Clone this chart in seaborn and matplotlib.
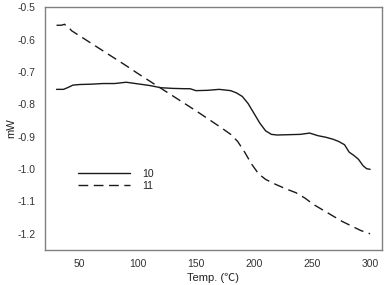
import matplotlib
matplotlib.use("Agg")
import matplotlib.pyplot as plt
import seaborn as sns
import pandas as pd

# Series "10" (solid)
x10 = [30, 36, 40, 44, 50, 60, 70, 80, 90, 100, 110, 120, 130, 140, 145, 150, 160, 170, 180, 185,
       190, 195, 200, 205, 210, 215, 220, 230, 240, 248, 255, 262, 268, 273, 278, 282, 286, 290, 294, 297, 300]
y10 = [-0.754, -0.754, -0.748, -0.741, -0.739, -0.738, -0.736, -0.736, -0.732, -0.737, -0.742, -0.749,
       -0.751, -0.752, -0.752, -0.758, -0.757, -0.754, -0.758, -0.765, -0.776, -0.798, -0.828, -0.858,
       -0.882, -0.893, -0.895, -0.894, -0.893, -0.889, -0.897, -0.902, -0.908, -0.915, -0.925, -0.948,
       -0.958, -0.970, -0.990, -0.999, -1.001]

# Series "11" (dashed)
x11 = [30, 34, 37, 39, 41, 43, 50, 60, 70, 80, 90, 100, 110, 120, 130, 140, 150, 160, 170, 180,
       186, 192, 198, 204, 210, 219, 228, 236, 244, 251, 260, 268, 276, 284, 292, 300]
y11 = [-0.556, -0.556, -0.553, -0.562, -0.565, -0.573, -0.589, -0.612, -0.635, -0.658, -0.681, -0.705,
       -0.728, -0.751, -0.774, -0.797, -0.820, -0.844, -0.868, -0.893, -0.915, -0.948, -0.985, -1.015,
       -1.032, -1.048, -1.062, -1.073, -1.090, -1.109, -1.128, -1.145, -1.162, -1.176, -1.190, -1.200]

labels = ["10", "11"]
xticks = [50, 100, 150, 200, 250, 300]
yticks = [-1.2, -1.1, -1.0, -0.9, -0.8, -0.7, -0.6, -0.5]

df = pd.concat([
    pd.DataFrame({"Temp": x10, "mW": y10, "series": labels[0]}),
    pd.DataFrame({"Temp": x11, "mW": y11, "series": labels[1]}),
])

sns.set_style("white")
plt.rcParams["font.family"] = ["Liberation Sans", "Noto Sans CJK SC", "DejaVu Sans"]

fig = plt.figure(figsize=(3.84, 2.85), dpi=100)
ax = fig.add_axes([0.117, 0.123, 0.877, 0.852])

sns.lineplot(data=df, x="Temp", y="mW", hue="series", style="series",
             palette=["#1a1a1a", "#1a1a1a"], dashes={"10": "", "11": (7, 4)},
             linewidth=1.0, ax=ax, legend=True, sort=False)

ax.set_xlim(20, 310)
ax.set_ylim(-1.25, -0.5)
ax.set_xticks(xticks)
ax.set_xticklabels([str(t) for t in xticks])
ax.set_yticks(yticks)
ax.set_yticklabels([f"{t:.1f}" for t in yticks])

for s in ax.spines.values():
    s.set_color("#808080")
    s.set_linewidth(1.0)
ax.tick_params(axis="both", direction="out", length=3.5, width=0.8, color="#808080",
               labelsize=7.5, labelcolor="#333333", pad=3)

ax.set_xlabel("Temp. (℃)", fontsize=8, color="#222222", labelpad=3)
ax.set_ylabel("mW", fontsize=8, color="#222222", labelpad=1)

leg = ax.legend(loc="center left", bbox_to_anchor=(0.098, 0.288), frameon=False,
                fontsize=7.5, handlelength=5.0, handletextpad=1.2, labelspacing=0.2,
                borderpad=0, borderaxespad=0)
for t in leg.get_texts():
    t.set_color("#222222")

fig.savefig("out.png", dpi=100)
